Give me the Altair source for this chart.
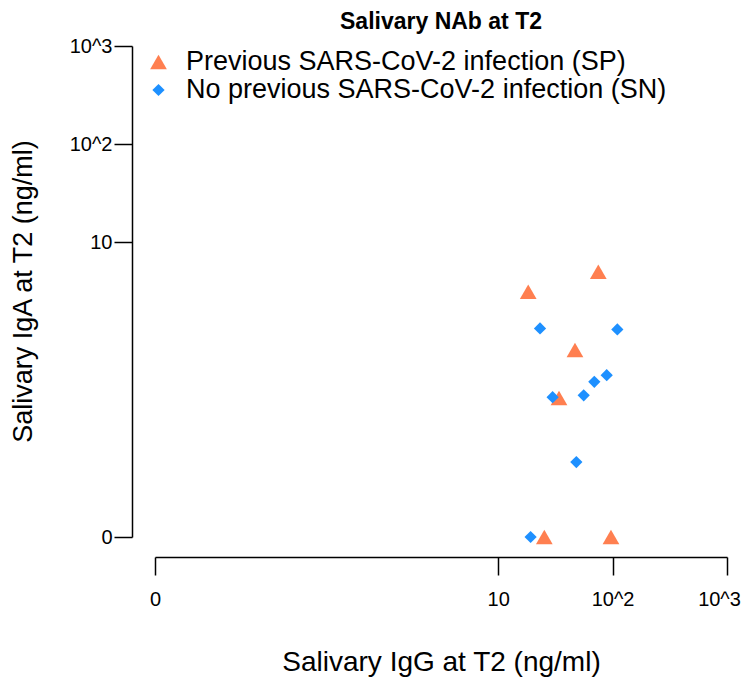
import altair as alt
import pandas as pd

FONT = "Liberation Sans"

# Values (ng/ml); 0 = below detection
sp_igg = [75.0, 18.3, 46.9, 34.0, 25.3, 96.8]
sp_iga = [5.03, 3.15, 0.80, 0.26, 0.0, 0.0]
sn_igg = [23.2, 110.0, 69.2, 88.8, 55.9, 29.9, 48.2, 19.2]
sn_iga = [1.33, 1.30, 0.381, 0.444, 0.277, 0.265, 0.058, 0.0]

groups = ["Previous SARS-CoV-2 infection (SP)", "No previous SARS-CoV-2 infection (SN)"]
tick_values = [0.01, 10, 100, 1000]
tick_labels = ["0", "10", "10^2", "10^3"]

df = pd.DataFrame({
    "igg": sp_igg + sn_igg,
    "iga": sp_iga + sn_iga,
    "group": [groups[0]] * len(sp_igg) + [groups[1]] * len(sn_igg),
})

label_expr = (
    f"datum.value < 0.1 ? '{tick_labels[0]}' : datum.value < 50 ? '{tick_labels[1]}' : "
    f"datum.value < 500 ? '{tick_labels[2]}' : '{tick_labels[3]}'"
)

common_axis = dict(
    values=tick_values, labelExpr=label_expr, grid=False,
    tickSize=18, tickWidth=1.5, tickColor="black",
    domainWidth=1.5, domainColor="black",
    labelFont=FONT, labelFontSize=20, labelColor="black",
    labelFlush=False, labelOverlap=False,
    titleFont=FONT, titleFontWeight="normal", titleColor="black",
)

x_axis = alt.Axis(
    offset=20, labelPadding=14, title="Salivary IgG at T2 (ng/ml)",
    titleFontSize=28, titleY=105, titleBaseline="middle",
    labelOffset={"condition": {"test": "datum.value > 500", "value": -8}, "value": 0},
    **common_axis,
)
y_axis = alt.Axis(
    offset=23, labelPadding=2, title="Salivary IgA at T2 (ng/ml)",
    titleFontSize=27, titleX=-109, titleY=245, titleAngle=270, titleBaseline="middle",
    **common_axis,
)

chart = alt.Chart(df).transform_calculate(
    xp="max(datum.igg, 0.01)", yp="max(datum.iga, 0.01)"
).mark_point(filled=True, opacity=1, strokeWidth=0).encode(
    x=alt.X("xp:Q", scale=alt.Scale(type="log", domain=[0.01, 1000], nice=False), axis=x_axis),
    y=alt.Y("yp:Q", scale=alt.Scale(type="log", domain=[0.01, 1000], nice=False), axis=y_axis),
    color=alt.Color("group:N", scale=alt.Scale(domain=groups, range=["#FF7F50", "#1E90FF"]),
                    legend=alt.Legend(orient="none", legendX=-10, legendY=2.5, title=None,
                                      labelFont=FONT, labelFontSize=27, labelColor="black",
                                      labelLimit=700, labelOffset=14, rowPadding=0, padding=0,
                                      symbolOpacity=1, symbolStrokeWidth=0)),
    shape=alt.Shape("group:N", scale=alt.Scale(domain=groups, range=["triangle-up", "diamond"])),
    size=alt.Size("group:N", scale=alt.Scale(domain=groups, range=[280, 150])),
).properties(
    width=572, height=491,
    title=alt.TitleParams("Salivary NAb at T2", font=FONT, fontSize=23, fontWeight="bold",
                          color="black", anchor="middle", dy=2),
    autosize=alt.AutoSizeParams(type="none"),
    padding={"left": 147, "top": 38, "right": 15, "bottom": 142},
).configure_view(stroke=None)

chart.save("out.html", embed_options={"renderer": "svg", "actions": False})
